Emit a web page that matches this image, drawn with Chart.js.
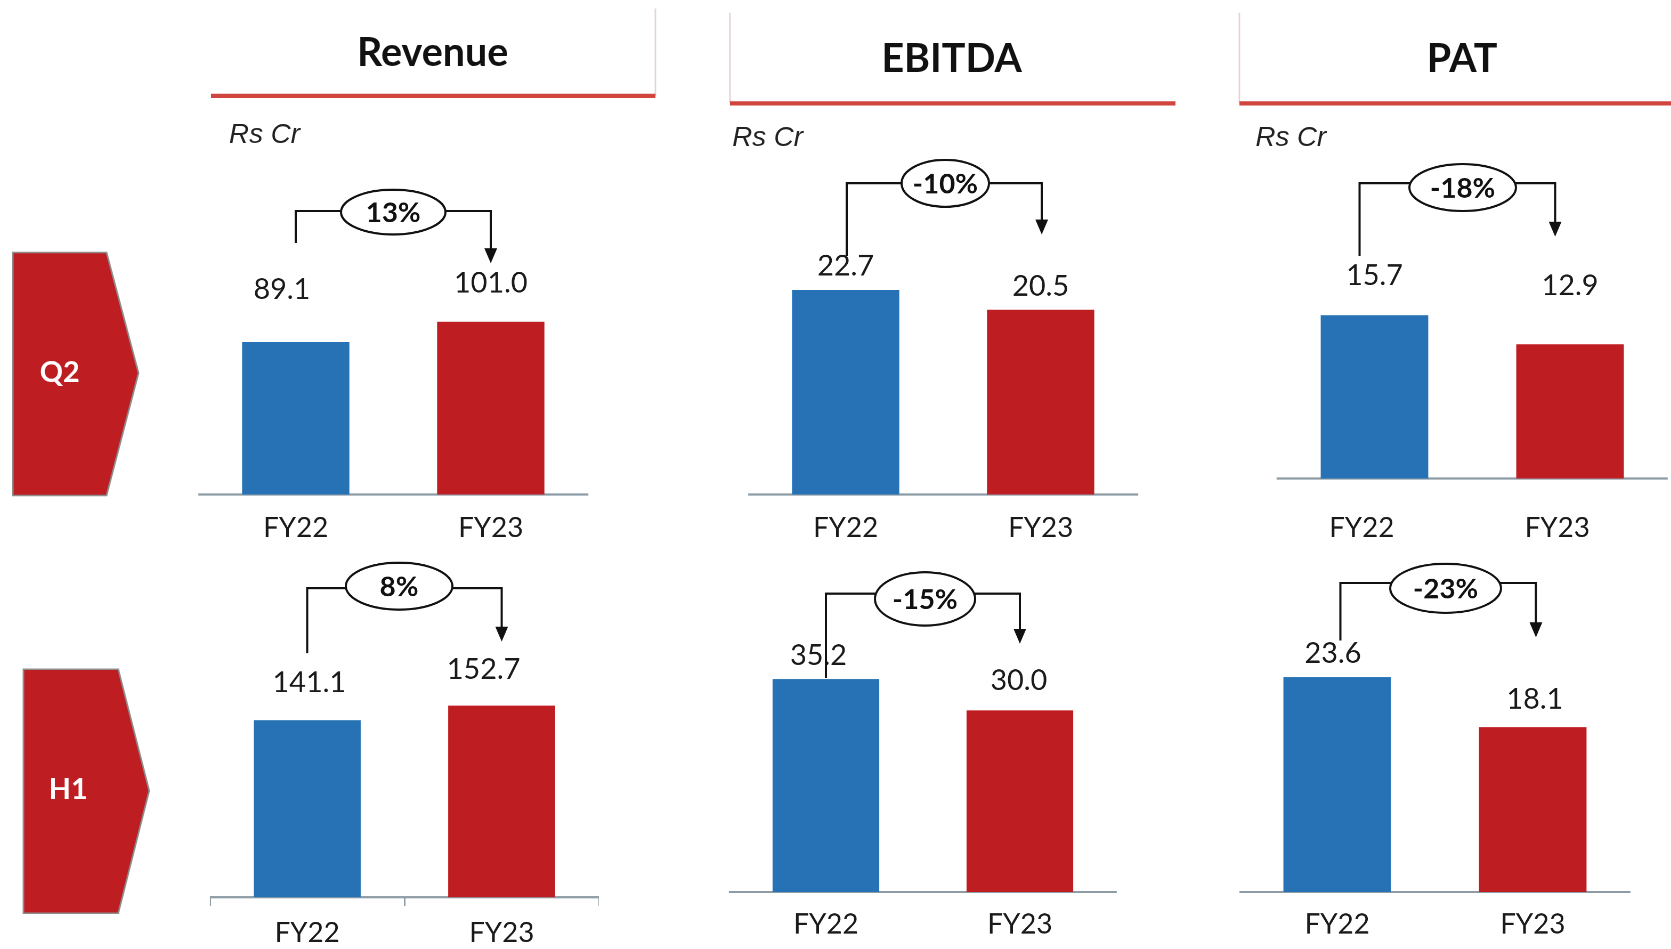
<!DOCTYPE html>
<html>
<head>
<meta charset="utf-8">
<title>Q2 / H1 FY23 highlights</title>
<script src="https://cdn.jsdelivr.net/npm/chart.js"></script>
<style>
  html, body { margin: 0; padding: 0; background: #fff; overflow: hidden; }
  #stage { position: absolute; left: 0; top: 0; width: 1568px; height: 890px;
           transform-origin: 0 0; transform: scale(1.06569); font-family: Lato, sans-serif; }
  .panel { position: absolute; }
  .title { position: absolute; width: 300px; text-align: center; font-weight: 700;
           font-size: 37px; line-height: 40px; color: #111; }
  .unit { position: absolute; font-family: "Liberation Sans", Arial, sans-serif;
          font-style: italic; font-size: 26px; line-height: 30px; color: #222; }
</style>
</head>
<body>
<div id="stage">
  <svg width="1568" height="890" style="position:absolute;left:0;top:0">
    <line x1="615" y1="8" x2="615" y2="90" stroke="#e6d3d4" stroke-width="1.5"/>
    <line x1="198" y1="90" x2="615" y2="90" stroke="#d0453d" stroke-width="4"/>
    <line x1="685" y1="12" x2="685" y2="97" stroke="#e6d3d4" stroke-width="1.5"/>
    <line x1="685" y1="97" x2="1103" y2="97" stroke="#d0453d" stroke-width="4"/>
    <line x1="1163" y1="12" x2="1163" y2="97" stroke="#e6d3d4" stroke-width="1.5"/>
    <line x1="1163" y1="97" x2="1568" y2="97" stroke="#d0453d" stroke-width="4"/>
    <polygon points="12,237 100,237 130,350 100,465 12,465" fill="#be1e22" stroke="#8d8d8d" stroke-width="1.5"/>
    <polygon points="22,628 111,628 140,742 111,857 22,857" fill="#be1e22" stroke="#8d8d8d" stroke-width="1.5"/>
    <text id="p0" x="56" y="352" fill="#fff" font-family="Lato" font-weight="700" font-size="27" text-anchor="middle" dominant-baseline="middle"></text>
    <text id="p1" x="64" y="743" fill="#fff" font-family="Lato" font-weight="700" font-size="27" text-anchor="middle" dominant-baseline="middle"></text>
  </svg>
  <div class="title" id="t0" style="left:256px;top:28px"></div>
  <div class="title" id="t1" style="left:743px;top:34px"></div>
  <div class="title" id="t2" style="left:1222px;top:34px"></div>
  <div class="unit" id="u0" style="left:215px;top:110px"></div>
  <div class="unit" id="u1" style="left:687px;top:113px"></div>
  <div class="unit" id="u2" style="left:1178px;top:113px"></div>
</div>
<script>
const years = ['FY22', 'FY23'];
const metrics = ['Revenue', 'EBITDA', 'PAT'];
const periods = ['Q2', 'H1'];
const unitLabel = 'Rs Cr';

const q2Revenue = [89.1, 101.0];
const q2Ebitda = [22.7, 20.5];
const q2Pat = [15.7, 12.9];
const h1Revenue = [141.1, 152.7];
const h1Ebitda = [35.2, 30.0];
const h1Pat = [23.6, 18.1];

const q2Growth = ['13%', '-10%', '-18%'];
const h1Growth = ['8%', '-15%', '-23%'];

const blue = '#2672b4';
const red = '#be1e22';
const axisGrey = '#8e9ca6';

periods.forEach((p, i) => document.getElementById('p' + i).textContent = p);
metrics.forEach((m, i) => {
  document.getElementById('t' + i).textContent = m;
  document.getElementById('u' + i).textContent = unitLabel;
});

// layout of each small chart (page px), k = px per Rs Cr
const panels = [
  { data: q2Revenue, growth: q2Growth[0], left: 186, width: 366, top: 140, axisY: 464, k: 1.605,
    pad: 16, shift: 0, marks: false, off: [[-13, 49], [0, 36]],
    br: { y: 198, y0: 228, tip: 247, rx: 49, ry: 21, ex: 0, ey: 1, lx: 0 } },
  { data: q2Ebitda, growth: q2Growth[1], left: 702, width: 366, top: 140, axisY: 464, k: 8.46,
    pad: 16, shift: 0, marks: false, off: [[0, 22], [0, 22]],
    br: { y: 172, y0: 240, tip: 220, rx: 41, ry: 22, ex: 2, ey: 0, lx: 1 } },
  { data: q2Pat, growth: q2Growth[2], left: 1198, width: 367, top: 140, axisY: 449, k: 9.76,
    pad: 31, shift: -12, marks: false, off: [[0, 37], [0, 55]],
    br: { y: 172, y0: 240, tip: 222, rx: 50, ry: 22, ex: -9, ey: 4, lx: -14 } },
  { data: h1Revenue, growth: h1Growth[0], left: 197, width: 365, top: 515, axisY: 842, k: 1.178,
    pad: 10, shift: 0, marks: true, off: [[2, 35], [-17, 34]],
    br: { y: 552, y0: 613, tip: 602, rx: 50, ry: 22, ex: -5, ey: -2, lx: 0 } },
  { data: h1Ebitda, growth: h1Growth[1], left: 684, width: 364, top: 515, axisY: 837, k: 5.68,
    pad: 15, shift: 0, marks: false, off: [[-7, 22], [-1, 28]],
    br: { y: 557, y0: 636, tip: 604, rx: 47, ry: 25, ex: 2, ey: 5, lx: 0 } },
  { data: h1Pat, growth: h1Growth[2], left: 1163, width: 367, top: 515, axisY: 837, k: 8.54,
    pad: 15, shift: 0, marks: false, off: [[-4, 22], [2, 26]],
    br: { y: 547, y0: 601, tip: 598, rx: 52, ry: 23, ex: 10, ey: 5, lx: 3 } }
];

const AXIS_ZONE = 60;

// value labels and the growth bracket
const annotate = {
  id: 'annotate',
  afterDatasetsDraw(chart, args, opts) {
    const p = opts.panel;
    if (!p) return;
    const ctx = chart.ctx;
    const bars = chart.getDatasetMeta(0).data;
    const vals = chart.data.datasets[0].data;
    ctx.save();
    ctx.fillStyle = '#1a1a1a';
    ctx.textAlign = 'center';
    ctx.textBaseline = 'middle';
    ctx.font = '27px Lato';
    bars.forEach((bar, i) => {
      ctx.fillText(vals[i].toFixed(1), bar.x + p.off[i][0], bar.y - p.off[i][1]);
    });

    const b = p.br;
    const x0 = bars[0].x + b.lx, x1 = bars[1].x + b.lx;
    const cx = (bars[0].x + bars[1].x) / 2 + b.ex;
    const y = b.y - p.top, cy = y + b.ey;
    const y0 = b.y0 - p.top, tip = b.tip - p.top;
    ctx.strokeStyle = '#111';
    ctx.lineWidth = 2;
    ctx.beginPath();
    ctx.moveTo(x0, y0);
    ctx.lineTo(x0, y);
    ctx.lineTo(x1, y);
    ctx.lineTo(x1, tip - 12);
    ctx.stroke();
    ctx.fillStyle = '#111';
    ctx.beginPath();
    ctx.moveTo(x1 - 6, tip - 14);
    ctx.lineTo(x1 + 6, tip - 14);
    ctx.lineTo(x1, tip);
    ctx.closePath();
    ctx.fill();

    ctx.beginPath();
    ctx.ellipse(cx, cy, b.rx, b.ry, 0, 0, Math.PI * 2);
    ctx.fillStyle = '#fff';
    ctx.fill();
    ctx.stroke();
    ctx.fillStyle = '#111';
    ctx.font = 'bold 26px Lato';
    ctx.fillText(p.growth, cx, cy + 1);
    ctx.restore();
  }
};

Chart.defaults.font.family = 'Lato';

const stage = document.getElementById('stage');
panels.forEach(p => {
  const box = document.createElement('div');
  box.className = 'panel';
  box.style.left = p.left + 'px';
  box.style.top = p.top + 'px';
  box.style.width = p.width + 'px';
  box.style.height = (p.axisY - p.top + AXIS_ZONE) + 'px';
  const cv = document.createElement('canvas');
  box.appendChild(cv);
  stage.appendChild(box);

  new Chart(cv, {
    type: 'bar',
    data: {
      labels: years,
      datasets: [{
        data: p.data,
        backgroundColor: [blue, red],
        borderWidth: 0,
        barPercentage: 0.55,
        categoryPercentage: 1
      }]
    },
    options: {
      responsive: true,
      maintainAspectRatio: false,
      animation: false,
      devicePixelRatio: 2,
      layout: { padding: 0 },
      events: [],
      plugins: {
        legend: { display: false },
        tooltip: { enabled: false },
        annotate: { panel: p }
      },
      scales: {
        y: { display: false, min: 0, max: (p.axisY - p.top) / p.k },
        x: {
          afterFit(scale) { scale.height = AXIS_ZONE; },
          border: { display: true, color: axisGrey, width: 2 },
          grid: p.marks
            ? { display: true, drawOnChartArea: false, drawTicks: true, tickLength: 8, color: axisGrey, lineWidth: 1.5 }
            : { display: false, drawTicks: false },
          ticks: { color: '#1a1a1a', font: { size: 26 }, padding: p.pad, labelOffset: p.shift }
        }
      }
    },
    plugins: [annotate]
  });
});
</script>
</body>
</html>
